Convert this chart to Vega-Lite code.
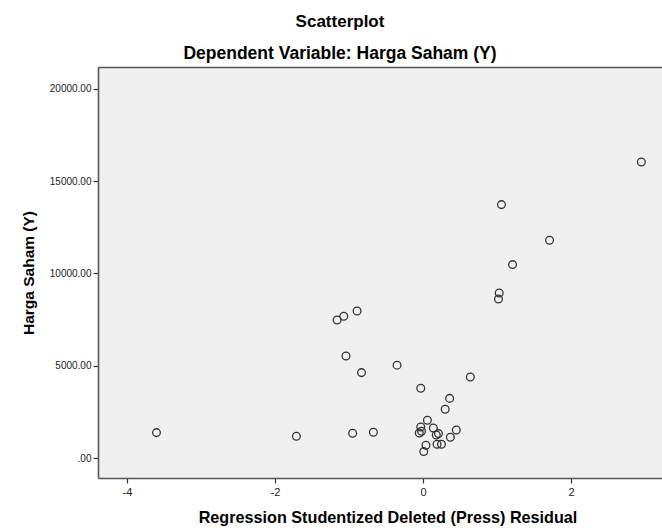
{
  "$schema": "https://vega.github.io/schema/vega-lite/v6.json",
  "autosize": {"type": "none"},
  "padding": {"left": 98, "top": 67, "right": 0, "bottom": 50},
  "width": 566,
  "height": 411,
  "background": "white",
  "config": {
    "font": "Liberation Sans",
    "view": {"fill": "#f0f0f0", "stroke": null}
  },
  "title": {
    "text": "Scatterplot",
    "subtitle": "Dependent Variable: Harga Saham (Y)",
    "anchor": "middle",
    "frame": "group",
    "dx": -41,
    "offset": 4,
    "fontSize": 17,
    "fontWeight": "bold",
    "color": "#000000",
    "subtitleFontSize": 17.5,
    "subtitleFontWeight": "bold",
    "subtitleColor": "#000000",
    "subtitlePadding": 14
  },
  "data": {
    "values": [
      {"residual": -3.60, "harga": 1376},
      {"residual": -1.71, "harga": 1175},
      {"residual": -0.95, "harga": 1338},
      {"residual": -0.67, "harga": 1392},
      {"residual": -1.16, "harga": 7476},
      {"residual": -1.07, "harga": 7676},
      {"residual": -0.89, "harga": 7963},
      {"residual": -1.04, "harga": 5525},
      {"residual": -0.83, "harga": 4626},
      {"residual": -0.35, "harga": 5030},
      {"residual": -0.03, "harga": 3776},
      {"residual": 0.64, "harga": 4388},
      {"residual": 0.36, "harga": 3230},
      {"residual": 0.30, "harga": 2638},
      {"residual": 0.06, "harga": 2042},
      {"residual": -0.03, "harga": 1679},
      {"residual": -0.05, "harga": 1354},
      {"residual": -0.02, "harga": 1446},
      {"residual": 0.14, "harga": 1625},
      {"residual": 0.18, "harga": 1246},
      {"residual": 0.21, "harga": 1322},
      {"residual": 0.45, "harga": 1517},
      {"residual": 0.37, "harga": 1121},
      {"residual": 0.04, "harga": 688},
      {"residual": 0.01, "harga": 347},
      {"residual": 0.19, "harga": 742},
      {"residual": 0.25, "harga": 742},
      {"residual": 1.03, "harga": 8938},
      {"residual": 1.02, "harga": 8613},
      {"residual": 1.06, "harga": 13727},
      {"residual": 1.71, "harga": 11793},
      {"residual": 1.21, "harga": 10477},
      {"residual": 2.95, "harga": 16035}
    ]
  },
  "layer": [
    {
      "mark": {"type": "point", "shape": "circle", "filled": false, "size": 60, "stroke": "#333333", "strokeWidth": 1.3, "opacity": 1},
      "encoding": {
        "x": {
          "field": "residual",
          "type": "quantitative",
          "scale": {"domain": [-4.39, 3.256], "nice": false, "zero": false},
          "axis": {
            "title": "Regression Studentized Deleted (Press) Residual",
            "values": [-4, -2, 0, 2],
            "labelExpr": "'' + datum.value",
            "grid": false,
            "domain": true,
            "domainColor": "#555555",
            "domainWidth": 1.6,
            "ticks": true,
            "tickSize": 5,
            "tickColor": "#333333",
            "tickWidth": 1.2,
            "labelFontSize": 11,
            "labelColor": "#222222",
            "labelPadding": 3,
            "titleFontSize": 16.2,
            "titleFontWeight": "bold",
            "titleColor": "#000000",
            "titlePadding": 12,
            "titleX": 289.5,
            "titleAlign": "center"
          }
        },
        "y": {
          "field": "harga",
          "type": "quantitative",
          "scale": {"domain": [-1083, 21181], "nice": false, "zero": false},
          "axis": {
            "title": "Harga Saham (Y)",
            "values": [0, 5000, 10000, 15000, 20000],
            "labelExpr": "datum.value == 0 ? '.00' : format(datum.value, '.2f')",
            "grid": false,
            "domain": true,
            "domainColor": "#555555",
            "domainWidth": 1.6,
            "ticks": true,
            "tickSize": 5,
            "tickColor": "#333333",
            "tickWidth": 1.2,
            "labelFontSize": 10,
            "labelColor": "#222222",
            "labelPadding": 2,
            "titleFontSize": 15.5,
            "titleFontWeight": "bold",
            "titleColor": "#000000",
            "titlePadding": 13
          }
        }
      }
    },
    {
      "mark": {"type": "point", "opacity": 0},
      "encoding": {
        "x": {
          "field": "residual",
          "type": "quantitative",
          "axis": {
            "orient": "top",
            "title": null,
            "labels": false,
            "ticks": false,
            "grid": false,
            "domain": true,
            "domainColor": "#555555",
            "domainWidth": 1.6
          }
        }
      }
    }
  ],
  "resolve": {"axis": {"x": "independent"}}
}
